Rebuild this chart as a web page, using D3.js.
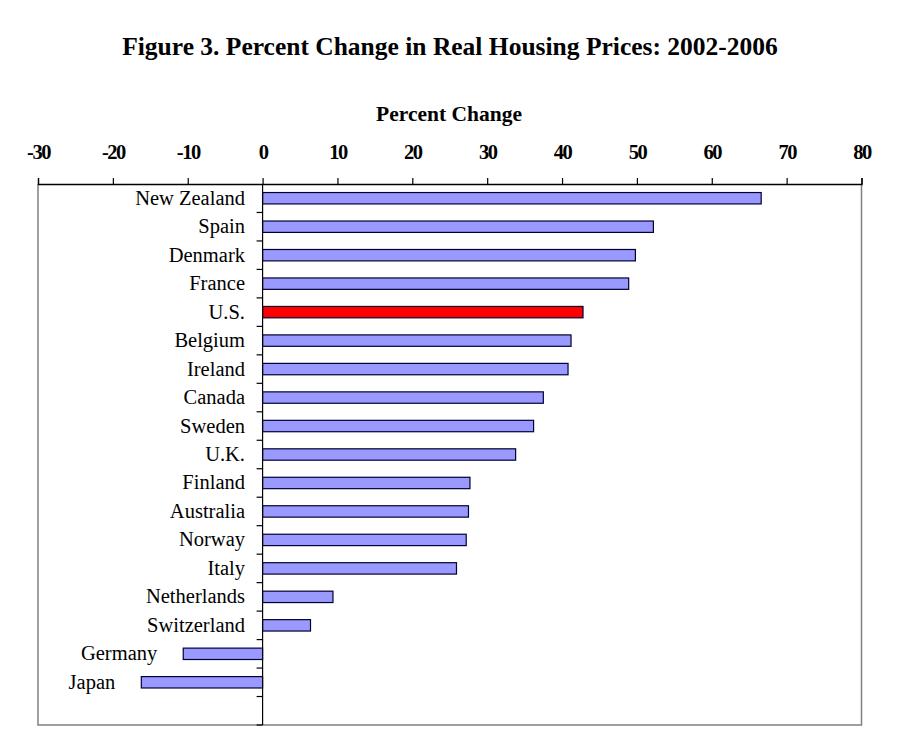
<!DOCTYPE html>
<html><head><meta charset="utf-8">
<script src="https://cdn.jsdelivr.net/npm/d3@7"></script>
<style>body{margin:0;background:#fff;} svg{display:block;}</style>
</head><body>
<script>
const countries = ["New Zealand","Spain","Denmark","France","U.S.","Belgium","Ireland","Canada","Sweden","U.K.","Finland","Australia","Norway","Italy","Netherlands","Switzerland","Germany","Japan"];
const changes = [66.6,52.2,49.8,48.9,42.8,41.2,40.8,37.5,36.2,33.8,27.7,27.5,27.2,25.9,9.4,6.4,-10.6,-16.2];
const xTicks = [-30,-20,-10,0,10,20,30,40,50,60,70,80];
const highlight = ["U.S."];

const W=900,H=748;
const svg=d3.select("body").append("svg").attr("width",W).attr("height",H);
svg.append("rect").attr("width",W).attr("height",H).attr("fill","#fff");
const L=38,R=861.5,T=184,B=725;
const x=d3.scaleLinear().domain([-30,80]).range([L,R]);
const bandDomain=countries.concat([""]);
const y=d3.scaleBand().domain(bandDomain).range([T,B]).paddingInner(0).paddingOuter(0);
const serif="'Liberation Serif','Times New Roman',serif";

svg.append("text").attr("x",450).attr("y",55).attr("text-anchor","middle")
  .attr("font-family",serif).attr("font-weight","bold").attr("font-size",25.5)
  .text("Figure 3. Percent Change in Real Housing Prices: 2002-2006");
svg.append("text").attr("x",449).attr("y",121).attr("text-anchor","middle")
  .attr("font-family",serif).attr("font-weight","bold").attr("font-size",21.5)
  .text("Percent Change");

// frame (left, right, bottom gray)
svg.append("path").attr("d",`M${L},${T}V${B}H${R}V${T}`).attr("fill","none").attr("stroke","#808080").attr("stroke-width",1.5);

// top axis
const xAxis=d3.axisTop(x).tickValues(xTicks).tickSize(6).tickPadding(19).tickFormat(d=>String(d));
const gx=svg.append("g").attr("transform",`translate(0,${T})`).call(xAxis);
gx.select(".domain").attr("stroke","#000").attr("stroke-width",1.3);
gx.selectAll(".tick line").attr("stroke","#000").attr("stroke-width",1.2);
gx.selectAll("text").attr("font-family",serif).attr("font-weight","bold").attr("font-size",20.5).attr("fill","#000").attr("letter-spacing","-1.5px");

// bars
svg.append("g").selectAll("rect").data(countries).join("rect")
  .attr("x",(d,i)=>x(Math.min(0,changes[i])))
  .attr("width",(d,i)=>Math.abs(x(changes[i])-x(0)))
  .attr("y",d=>y(d)+y.bandwidth()*0.3)
  .attr("height",y.bandwidth()*0.4)
  .attr("fill",d=>highlight.includes(d)?"#FF0000":"#9999FF")
  .attr("stroke","#000033").attr("stroke-width",1.2);

// zero axis with left ticks at band boundaries
const gy=svg.append("g").attr("transform",`translate(${x(0)},0)`);
gy.append("line").attr("x1",0).attr("x2",0).attr("y1",T).attr("y2",B).attr("stroke","#000").attr("stroke-width",1.2);
const bounds=d3.range(1,bandDomain.length+1).map(k=>T+k*y.step());
gy.selectAll("line.tk").data(bounds).join("line").attr("class","tk")
  .attr("x1",-6).attr("x2",0).attr("y1",d=>d).attr("y2",d=>d).attr("stroke","#000").attr("stroke-width",1.2);

// category labels
svg.append("g").selectAll("text").data(countries).join("text")
  .attr("x",(d,i)=>changes[i]<0? x(changes[i])-26 : 245)
  .attr("y",d=>y(d)+y.bandwidth()/2+6.5)
  .attr("text-anchor","end")
  .attr("font-family",serif).attr("font-size",20.5).attr("fill","#000")
  .text(d=>d);
</script>
</body></html>
